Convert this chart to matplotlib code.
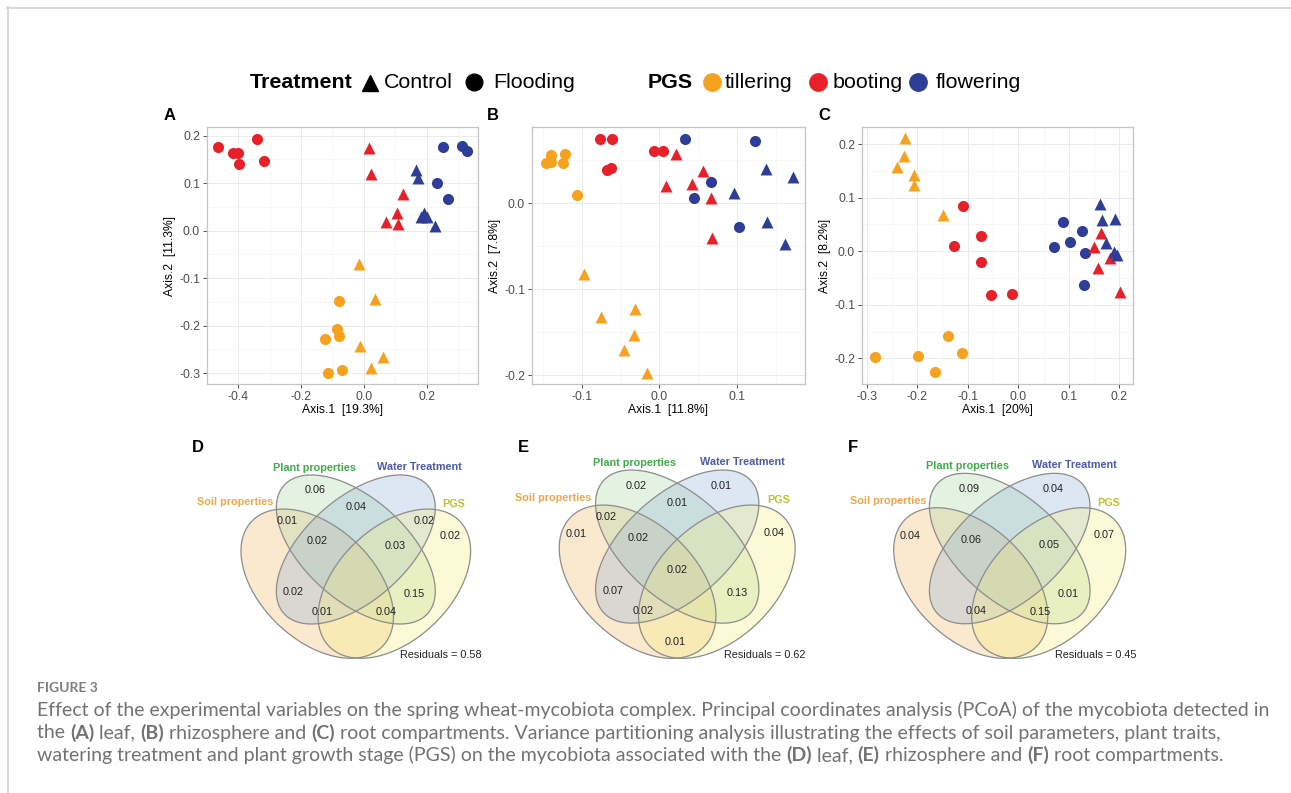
import matplotlib
matplotlib.use('Agg')
import matplotlib.pyplot as plt
import numpy as np
from matplotlib import font_manager
from matplotlib.patches import Polygon

plt.rcParams['axes.unicode_minus'] = False
plt.rcParams['font.family'] = ['Liberation Sans', 'DejaVu Sans']

W, H = 1291, 793
DPI = 100

STAGE_COLORS = {'till': '#F7A21E', 'boot': '#E8202A', 'flow': '#2E3D98'}
TREAT_MARKERS = {'ctrl': '^', 'flood': 'o'}

# ---- PCoA, panel A (leaf)
A_x = [-0.464, -0.341, -0.416, -0.402, -0.397, -0.319,
       0.017, 0.022, 0.126, 0.107, 0.072, 0.109,
       0.166, 0.174, 0.193, 0.182, 0.200, 0.228,
       0.254, 0.312, 0.328, 0.232, 0.269,
       -0.015, 0.037, -0.013, 0.062, 0.022,
       -0.079, -0.087, -0.080, -0.123, -0.114, -0.069]
A_y = [0.175, 0.192, 0.163, 0.163, 0.140, 0.147,
       0.173, 0.119, 0.077, 0.036, 0.017, 0.013,
       0.128, 0.110, 0.036, 0.028, 0.028, 0.010,
       0.175, 0.179, 0.168, 0.100, 0.066,
       -0.070, -0.144, -0.244, -0.267, -0.290,
       -0.148, -0.208, -0.221, -0.229, -0.299, -0.293]
A_stage = ['boot'] * 12 + ['flow'] * 11 + ['till'] * 11
A_treat = ['flood'] * 6 + ['ctrl'] * 12 + ['flood'] * 5 + ['ctrl'] * 5 + ['flood'] * 6

# ---- PCoA, panel B (rhizosphere)
B_x = [-0.146, -0.139, -0.139, -0.121, -0.124, -0.106,
       -0.077, -0.061, -0.068, -0.062, -0.007, 0.005,
       0.022, 0.056, 0.008, 0.042, 0.067, 0.068,
       0.033, 0.123, 0.067, 0.044, 0.102,
       0.137, 0.172, 0.096, 0.138, 0.162,
       -0.097, -0.075, -0.031, -0.033, -0.045, -0.016]
B_y = [0.0465, 0.056, 0.048, 0.057, 0.0465, 0.009,
       0.074, 0.074, 0.038, 0.041, 0.060, 0.060,
       0.057, 0.037, 0.020, 0.022, 0.006, -0.040,
       0.074, 0.072, 0.025, 0.006, -0.028,
       0.040, 0.030, 0.012, -0.022, -0.048,
       -0.082, -0.132, -0.123, -0.153, -0.171, -0.197]
B_stage = ['till'] * 6 + ['boot'] * 12 + ['flow'] * 10 + ['till'] * 6
B_treat = ['flood'] * 12 + ['ctrl'] * 6 + ['flood'] * 5 + ['ctrl'] * 5 + ['ctrl'] * 6

# ---- PCoA, panel C (root)
C_x = [-0.224, -0.225, -0.240, -0.207, -0.206, -0.149,
       -0.109, -0.074, -0.128, -0.074, -0.054, -0.013,
       -0.139, -0.284, -0.199, -0.111, -0.164,
       0.089, 0.127, 0.102, 0.070, 0.133, 0.131,
       0.163, 0.150, 0.181, 0.158, 0.202,
       0.161, 0.166, 0.191, 0.174, 0.189, 0.195]
C_y = [0.211, 0.178, 0.158, 0.143, 0.124, 0.068,
       0.084, 0.029, 0.009, -0.021, -0.082, -0.080,
       -0.158, -0.197, -0.196, -0.190, -0.225,
       0.054, 0.037, 0.017, 0.007, -0.004, -0.063,
       0.034, 0.007, -0.013, -0.032, -0.077,
       0.089, 0.059, 0.060, 0.015, -0.002, -0.007]
C_stage = ['till'] * 6 + ['boot'] * 6 + ['till'] * 5 + ['flow'] * 6 + ['boot'] * 5 + ['flow'] * 6
C_treat = ['ctrl'] * 6 + ['flood'] * 6 + ['flood'] * 5 + ['flood'] * 6 + ['ctrl'] * 5 + ['ctrl'] * 6

AXIS_LABELS = {
    'A': ('Axis.1  [19.3%]', 'Axis.2  [11.3%]'),
    'B': ('Axis.1  [11.8%]', 'Axis.2  [7.8%]'),
    'C': ('Axis.1  [20%]', 'Axis.2  [8.2%]'),
}

# ---- variance partitioning (vegan varpart)
REGIONS = ['S', 'P', 'W', 'G', 'SP', 'PW', 'WG', 'SPW', 'PWG',
           'SW', 'PG', 'SWG', 'SPG', 'SPWG', 'SG']
D_vals = [None, 0.06, None, 0.02, 0.01, 0.04, 0.02, 0.02, 0.03,
          0.02, 0.15, 0.01, 0.04, None, None]
E_vals = [0.01, 0.02, 0.01, 0.04, 0.02, 0.01, None, 0.02, None,
          0.07, 0.13, 0.02, None, 0.02, 0.01]
F_vals = [0.04, 0.09, 0.04, 0.07, None, None, None, 0.06, 0.05,
          None, 0.01, 0.04, 0.15, None, None]
RESIDUALS = {'D': 0.58, 'E': 0.62, 'F': 0.45}
SET_NAMES = ['Soil properties', 'Plant properties', 'Water Treatment', 'PGS']

# ---------------------------------------------------------------- layout
fig = plt.figure(figsize=(W / DPI, H / DPI), dpi=DPI)
fig.patch.set_facecolor('white')
renderer = fig.canvas.get_renderer()


def px_axes(l, t, r, b):
    return fig.add_axes([l / W, 1 - b / H, (r - l) / W, (b - t) / H])


SCATTER = [
    # key, box(l,t,r,b), xlim, ylim, xmajor, xminor, ymajor, yminor, data
    ('A', (207, 127, 478, 384), (-0.50, 0.364), (-0.323, 0.218),
     [-0.4, -0.2, 0.0, 0.2], [-0.5, -0.3, -0.1, 0.1, 0.3],
     [-0.3, -0.2, -0.1, 0.0, 0.1, 0.2], [-0.25, -0.15, -0.05, 0.05, 0.15],
     (A_x, A_y, A_stage, A_treat)),
    ('B', (532, 127, 805, 384), (-0.164, 0.1875), (-0.210, 0.0884),
     [-0.1, 0.0, 0.1], [-0.15, -0.05, 0.05, 0.15],
     [-0.2, -0.1, 0.0], [-0.15, -0.05, 0.05],
     (B_x, B_y, B_stage, B_treat)),
    ('C', (862, 127, 1133, 384), (-0.309, 0.227), (-0.248, 0.232),
     [-0.3, -0.2, -0.1, 0.0, 0.1, 0.2], [-0.25, -0.15, -0.05, 0.05, 0.15],
     [-0.2, -0.1, 0.0, 0.1, 0.2], [-0.15, -0.05, 0.05, 0.15],
     (C_x, C_y, C_stage, C_treat)),
]

for key, box, xlim, ylim, xmaj, xmin, ymaj, ymin, data in SCATTER:
    ax = px_axes(*box)
    xs, ys, st, tr = data
    for i in range(len(xs)):
        ax.scatter(xs[i], ys[i], s=74 if tr[i] == 'ctrl' else 64,
                   marker=TREAT_MARKERS[tr[i]], color=STAGE_COLORS[st[i]],
                   linewidths=0, zorder=3)
    ax.set_xlim(*xlim)
    ax.set_ylim(*ylim)
    ax.set_xticks(xmaj)
    ax.set_xticks(xmin, minor=True)
    ax.set_yticks(ymaj)
    ax.set_yticks(ymin, minor=True)
    ax.set_xticklabels(['%.1f' % v for v in xmaj])
    ax.set_yticklabels(['%.1f' % v for v in ymaj])
    ax.grid(True, which='major', color='#EBEBEB', lw=0.7, zorder=0)
    ax.grid(True, which='minor', color='#F4F4F4', lw=0.5, zorder=0)
    ax.set_axisbelow(True)
    for sp in ax.spines.values():
        sp.set_color('#C4C4C4')
        sp.set_linewidth(0.9)
    ax.tick_params(which='major', length=3, width=0.6, color='#333333',
                   labelsize=8.7, labelcolor='#4D4D4D', pad=2)
    ax.tick_params(which='minor', length=0)
    ax.set_xlabel(AXIS_LABELS[key][0], fontsize=8.7, labelpad=1)
    ax.set_ylabel(AXIS_LABELS[key][1], fontsize=8.7, labelpad=2)

# ---- Venn / varpart panels
ELLIPSES = [  # cx, cy, a, b, angle
    (0.353, 0.451, 0.335, 0.2076, 140.7),   # soil
    (0.500, 0.573, 0.357, 0.187, 141.6),    # plant
    (0.500, 0.573, 0.357, 0.187, 38.4),     # water
    (0.647, 0.451, 0.335, 0.2076, 39.3),    # PGS
]
FILLS = ['#F4B860', '#A8D5A2', '#8FB0DD', '#F2EC7A']
SET_COLORS = ['#F0A64C', '#3EAD48', '#4B5BAA', '#B8C531']
SET_POS = [(0.040, 0.741), (0.342, 0.864), (0.743, 0.867), (0.875, 0.735)]
REGION_POS = {
    'S': (0.125, 0.617), 'P': (0.346, 0.784), 'W': (0.662, 0.784),
    'G': (0.858, 0.621), 'SP': (0.237, 0.675), 'PW': (0.500, 0.725),
    'WG': (0.760, 0.676), 'SPW': (0.354, 0.604), 'PWG': (0.650, 0.585),
    'SW': (0.262, 0.420), 'PG': (0.722, 0.413), 'SWG': (0.372, 0.351),
    'SPG': (0.616, 0.350), 'SPWG': (0.498, 0.492), 'SG': (0.492, 0.243),
}
VENN = [  # key, centre x px, px per unit x, y px at v=0, px per unit y, values
    ('D', 355.8, 262.3, 710.1, 280.3, D_vals),
    ('E', 677.2, 269.5, 711.6, 288.0, E_vals),
    ('F', 1009.7, 265.0, 710.7, 283.0, F_vals),
]


def ellipse_xy(cx, cy, a, b, ang, n=300):
    t = np.linspace(0, 2 * np.pi, n)
    th = np.radians(ang)
    x = cx + a * np.cos(t) * np.cos(th) - b * np.sin(t) * np.sin(th)
    y = cy + a * np.cos(t) * np.sin(th) + b * np.sin(t) * np.cos(th)
    return np.column_stack([x, y])


for key, cx, sx, y0, sy, vals in VENN:
    u0, u1, v0, v1 = -0.15, 1.15, 0.1, 1.0
    ax = px_axes(cx + (u0 - 0.5) * sx, y0 - v1 * sy, cx + (u1 - 0.5) * sx, y0 - v0 * sy)
    ax.set_xlim(u0, u1)
    ax.set_ylim(v0, v1)
    ax.axis('off')
    ax.patch.set_alpha(0)
    for (ecx, ecy, a, b, ang), fc in zip(ELLIPSES, FILLS):
        pts = ellipse_xy(ecx, ecy, a, b, ang)
        ax.add_patch(Polygon(pts, closed=True, facecolor=fc, alpha=0.3,
                             edgecolor='none', zorder=1))
        ax.add_patch(Polygon(pts, closed=True, facecolor='none',
                             edgecolor='#8C8C8C', lw=0.9, zorder=2))
    for name, (px, py), col in zip(SET_NAMES, SET_POS, SET_COLORS):
        ax.text(px, py, name, color=col, fontsize=7.8, fontweight='bold',
                ha='center', va='center', zorder=4)
    for reg, v in zip(REGIONS, vals):
        if v is None:
            continue
        rx, ry = REGION_POS[reg]
        ax.text(rx, ry, '%.2f' % v, fontsize=7.8, color='#222222',
                ha='center', va='center', zorder=4)
    ax.text(0.826, 0.196, 'Residuals = %.2f' % RESIDUALS[key], fontsize=7.8,
            color='#222222', ha='center', va='center', zorder=4)

# ---- overlay in pixel coordinates: frame, letters, legend, caption
ov = fig.add_axes([0, 0, 1, 1])
ov.set_xlim(0, W)
ov.set_ylim(H, 0)
ov.axis('off')
ov.patch.set_alpha(0)

ov.plot([7, W], [7.5, 7.5], color='#D2D2D2', lw=1.2)
ov.plot([7.5, 7.5], [7, H], color='#D2D2D2', lw=1.2)

for letter, (lx, ly) in zip('ABCDEF', [(170, 116), (493, 116), (824, 116),
                                       (198, 447.5), (523, 447.5), (853, 447.5)]):
    ov.text(lx, ly, letter, fontsize=12, fontweight='bold', ha='center', va='center')


def fit_size(text, target, family, weight='normal', base=12):
    t = ov.text(0, 0, text, fontsize=base, family=family, fontweight=weight)
    w = t.get_window_extent(renderer=renderer).width
    t.remove()
    return base * target / w


names = {f.name for f in font_manager.fontManager.ttflist}
LEG_FONT = 'Liberation Sans Narrow' if 'Liberation Sans Narrow' in names else 'Liberation Sans'
leg_fs = fit_size('Treatment', 102, LEG_FONT, 'bold')
LEG_Y = 82
for txt, lx, wt in [('Treatment', 250, 'bold'), ('Control', 384, 'normal'),
                    ('Flooding', 493, 'normal'), ('PGS', 648, 'bold'),
                    ('tillering', 725, 'normal'), ('booting', 833, 'normal'),
                    ('flowering', 936, 'normal')]:
    ov.text(lx, LEG_Y, txt, fontsize=leg_fs, family=LEG_FONT, fontweight=wt,
            ha='left', va='center')
ov.plot([370], [LEG_Y + 1], marker='^', ms=12, color='black', lw=0)
ov.plot([474], [LEG_Y], marker='o', ms=12, color='black', lw=0)
for st, mx in [('till', 712), ('boot', 818), ('flow', 918)]:
    ov.plot([mx], [LEG_Y], marker='o', ms=12.5, color=STAGE_COLORS[st], lw=0)

# caption
CAP_FONT = ['Lato', 'DejaVu Sans']
CAP_COLOR = '#727272'
ov.text(37, 688, 'FIGURE 3', fontsize=10, family=CAP_FONT, fontweight='bold',
        color='#7E7E7E', ha='left', va='center')
line1 = ('Effect of the experimental variables on the spring wheat-mycobiota complex. '
         'Principal coordinates analysis (PCoA) of the mycobiota detected in')
cap_fs = fit_size(line1, 1225, CAP_FONT)
CAPTION = [
    [(line1, 'normal')],
    [('the ', 'normal'), ('(A)', 'bold'), (' leaf, ', 'normal'), ('(B)', 'bold'),
     (' rhizosphere and ', 'normal'), ('(C)', 'bold'),
     (' root compartments. Variance partitioning analysis illustrating the effects '
      'of soil parameters, plant traits,', 'normal')],
    [('watering treatment and plant growth stage (PGS) on the mycobiota associated '
      'with the ', 'normal'), ('(D)', 'bold'), (' leaf, ', 'normal'), ('(E)', 'bold'),
     (' rhizosphere and ', 'normal'), ('(F)', 'bold'), (' root compartments.', 'normal')],
]
for i, runs in enumerate(CAPTION):
    x = 37
    y = 716 + i * 22.5
    for txt, wt in runs:
        t = ov.text(x, y, txt, fontsize=cap_fs, family=CAP_FONT, fontweight=wt,
                    color=CAP_COLOR, ha='left', va='baseline')
        x += t.get_window_extent(renderer=renderer).width

fig.savefig('out.png', dpi=DPI, facecolor='white')
